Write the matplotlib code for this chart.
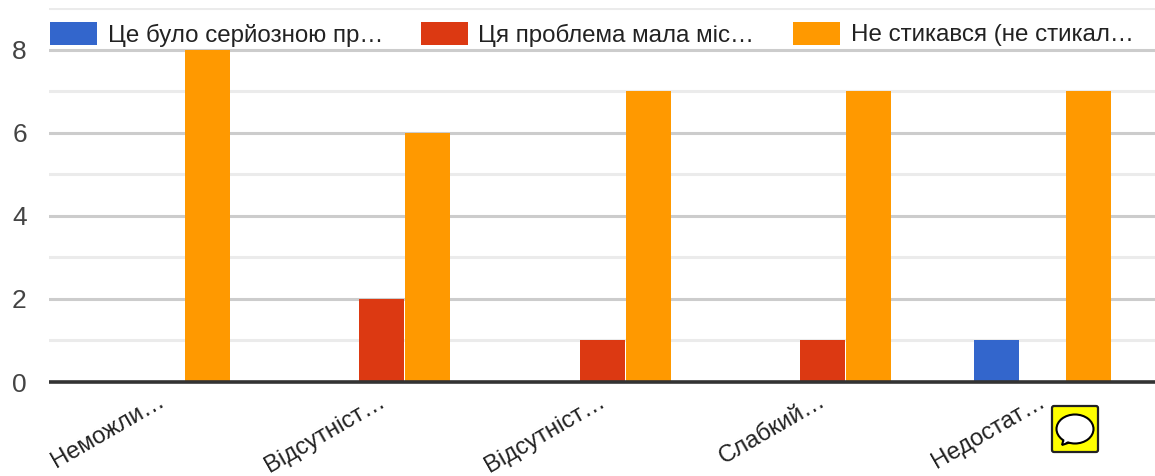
import numpy as np
import matplotlib
matplotlib.use("Agg")
import matplotlib.pyplot as plt
from matplotlib.patches import FancyBboxPatch, Ellipse, Polygon, Rectangle

# ---- Datos ----
categorias = ["Неможли…", "Відсутніст…", "Відсутніст…", "Слабкий…", "Недостат…"]
serie_1 = [0, 0, 0, 0, 1]
serie_2 = [0, 2, 1, 1, 0]
serie_3 = [8, 6, 7, 7, 7]
nombres = ["Це було серйозною пр…", "Ця проблема мала міс…", "Не стикався (не стикал…"]
colores = ["#3366CC", "#DC3912", "#FF9900"]
y_ticks = [0, 2, 4, 6, 8]

W, H = 1155, 476
plt.rcParams["font.family"] = ["Liberation Sans", "DejaVu Sans"]

fig = plt.figure(figsize=(W / 100, H / 100), dpi=100)
left, right, top, bottom = 49, 1155, 8, 382
ax = fig.add_axes([left / W, 1 - bottom / H, (right - left) / W, (bottom - top) / H])

# cada grupo ocupa 220.25 px
grupo = 220.25
x = np.arange(len(categorias))
ancho = 45 / grupo
paso = 46 / grupo
for i, (vals, col) in enumerate(zip([serie_1, serie_2, serie_3], colores)):
    ax.bar(x + (i - 1) * paso, vals, width=ancho, color=col, zorder=3)

x_min = -(161.5 - left) / grupo
ax.set_xlim(x_min, x_min + (right - left) / grupo)
ax.set_ylim(0, 9)

ax.set_yticks(y_ticks)
ax.set_yticks(range(0, 10), minor=True)
ax.grid(axis="y", which="minor", color="#EBEBEB", lw=2.2, zorder=1)
ax.grid(axis="y", which="major", color="#CCCCCC", lw=2.2, zorder=1)
ax.tick_params(axis="both", which="both", length=0)
ax.tick_params(axis="y", labelsize=19, labelcolor="#444444", pad=16)
for s in ax.spines.values():
    s.set_visible(False)
ax.axhline(0, color="#333333", lw=2.6, zorder=4, clip_on=False, solid_capstyle="butt")

ax.set_xticks(x)
ax.set_xticklabels([])
for xi, cat in zip(x, categorias):
    # etiquetas giradas con su final cerca del centro del grupo
    ax.annotate(cat, xy=(xi, 0), xycoords=("data", "axes fraction"),
                xytext=(-4, -8), textcoords="offset pixels", rotation=30,
                rotation_mode="anchor", ha="right", va="top",
                fontsize=17.2, color="#222222", annotation_clip=False)

# Leyenda a mano, en pixeles de la figura
def caja(px, py, pw, ph):
    return [px / W, 1 - (py + ph) / H, pw / W, ph / H]

for lx, tx, nom, col in zip([50, 421, 793], [108, 478, 851], nombres, colores):
    x0, y0, w0, h0 = caja(lx, 22, 47, 23)
    fig.patches.append(Rectangle((x0, y0), w0, h0, transform=fig.transFigure,
                                 facecolor=col, edgecolor="none", zorder=5))
    fig.text(tx / W, 1 - 35 / H, nom, fontsize=17.4, color="#222222", va="center", ha="left",
             zorder=6)

# Icono amarillo de comentario
icono = fig.add_axes([1045 / W, 1 - 460 / H, 60 / W, 60 / H])
icono.set_xlim(1045, 1105)
icono.set_ylim(460, 400)
icono.axis("off")
icono.add_patch(FancyBboxPatch((1052, 406), 46, 46, boxstyle="round,pad=0,rounding_size=2",
                               facecolor="#FFFF00", edgecolor="#222222", lw=1.6))
icono.add_patch(Polygon([[1064, 438], [1062, 445], [1074, 441]], closed=True,
                        facecolor="white", edgecolor="black", lw=1.5))
icono.add_patch(Ellipse((1075, 429), 37, 29, facecolor="white", edgecolor="black", lw=1.5))
icono.add_patch(Polygon([[1065, 436], [1064, 443], [1073, 439]], closed=True,
                        facecolor="white", edgecolor="none"))

fig.savefig("out.png", dpi=100)
